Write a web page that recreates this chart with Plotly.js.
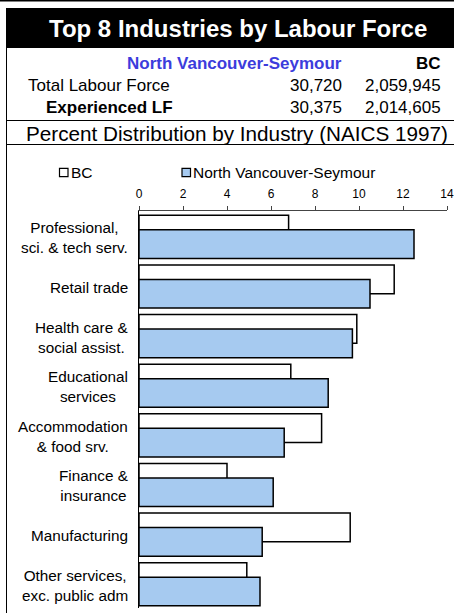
<!DOCTYPE html>
<html>
<head>
<meta charset="utf-8">
<script src="https://cdn.plot.ly/plotly-3.0.1.min.js"></script>
<style>
  html, body { margin: 0; padding: 0; background: #fff; }
  #chart { width: 454px; height: 613px; }
</style>
</head>
<body>
<div id="chart"></div>
<script>
// ---- data ----
const categories = [
  "Professional,<br>sci. & tech serv.",
  "Retail trade",
  "Health care &<br>social assist.",
  "Educational<br>services",
  "Accommodation<br>& food srv.",
  "Finance &<br>insurance",
  "Manufacturing",
  "Other services,<br>exc. public adm"
];
const bcValues = [6.8, 11.6, 9.9, 6.9, 8.3, 4.0, 9.6, 4.9];
const nvValues = [12.5, 10.5, 9.7, 8.6, 6.6, 6.1, 5.6, 5.5];
const seriesNames = ["BC", "North Vancouver-Seymour"];
const xTicks = [0, 2, 4, 6, 8, 10, 12, 14];

const chartTitle = "Top 8 Industries by Labour Force";
const regionName = "North Vancouver-Seymour";
const provName = "BC";
const rowLabels = ["Total Labour Force", "Experienced LF"];
const regionCounts = ["30,720", "30,375"];
const provCounts = ["2,059,945", "2,014,605"];
const subTitle = "Percent Distribution by Industry (NAICS 1997)";

// ---- layout geometry ----
const W = 454, H = 613, L = 139, R = 7, T = 211, B = 5;
const PW = W - L - R, PH = H - T - B;
const fx = x => (x - L) / PW;
const fy = y => (H - B - y) / PH;
const FONT = "Liberation Sans, Arial, sans-serif";
const BLUE = "#A6CAF0";

const barW = 0.578;
const traces = [
  {
    type: "bar", orientation: "h", name: seriesNames[0],
    y: categories, x: bcValues,
    width: barW, offset: -0.413,
    marker: { color: "#ffffff", line: { color: "#000", width: 1.5 } },
    hoverinfo: "x+name"
  },
  {
    type: "bar", orientation: "h", name: seriesNames[1],
    y: categories, x: nvValues,
    width: barW, offset: -0.121,
    marker: { color: BLUE, line: { color: "#000", width: 1.5 } },
    hoverinfo: "x+name"
  }
];

const shapes = [
  // black title banner
  { type: "rect", xref: "paper", yref: "paper", x0: fx(6), x1: fx(454), y0: fy(48), y1: fy(8),
    fillcolor: "#000", line: { width: 0 } },
  // top rule
  { type: "line", xref: "paper", yref: "paper", x0: fx(0), x1: fx(454), y0: fy(0.8), y1: fy(0.8),
    line: { color: "#000", width: 1.5 } },
  // left border
  { type: "line", xref: "paper", yref: "paper", x0: fx(6.5), x1: fx(6.5), y0: fy(613), y1: fy(48),
    line: { color: "#000", width: 1 } },
  // separators
  { type: "line", xref: "paper", yref: "paper", x0: fx(6), x1: fx(454), y0: fy(120.5), y1: fy(120.5),
    line: { color: "#000", width: 1 } },
  { type: "line", xref: "paper", yref: "paper", x0: fx(6), x1: fx(454), y0: fy(144.5), y1: fy(144.5),
    line: { color: "#000", width: 1 } },
  // legend boxes
  { type: "rect", xref: "paper", yref: "paper", x0: fx(59.5), x1: fx(68), y0: fy(176.7), y1: fy(168.3),
    fillcolor: "#fff", line: { color: "#000", width: 1.2 } },
  { type: "rect", xref: "paper", yref: "paper", x0: fx(182), x1: fx(190.5), y0: fy(176.7), y1: fy(168.3),
    fillcolor: BLUE, line: { color: "#000", width: 1.2 } }
];

function ann(text, x, y, xanchor, size, opts) {
  return Object.assign({
    xref: "paper", yref: "paper", x: fx(x), y: fy(y),
    xanchor: xanchor, yanchor: "middle", showarrow: false, text: text,
    font: { family: FONT, size: size, color: "#000" }
  }, opts || {});
}

const annotations = [
  ann("<b>" + chartTitle + "</b>", 237.5, 28, "center", 24, { font: { family: FONT, size: 24, color: "#fff" } }),
  ann("<b>" + regionName + "</b>", 344, 63, "right", 17, { font: { family: FONT, size: 17, color: "#3C3CDC" } }),
  ann("<b>" + provName + "</b>", 442.5, 63, "right", 17),
  ann(rowLabels[0], 25.5, 85, "left", 17),
  ann(regionCounts[0], 344, 85, "right", 17),
  ann(provCounts[0], 442.5, 85, "right", 17),
  ann("<b>" + rowLabels[1] + "</b>", 43.5, 107, "left", 17),
  ann(regionCounts[1], 344, 107, "right", 17),
  ann(provCounts[1], 442.5, 107, "right", 17),
  ann(subTitle, 236.5, 133, "center", 20.7),
  ann(seriesNames[0], 68.5, 172.7, "left", 15.5),
  ann(seriesNames[1], 191, 172.7, "left", 15.5)
];

// category labels: centred lines, block right-aligned next to the axis
categories.forEach(c => {
  annotations.push({
    xref: "paper", yref: "y", x: fx(130), y: c,
    xanchor: "right", yanchor: "middle", align: "center", yshift: -2,
    showarrow: false, text: c,
    font: { family: FONT, size: 15.3, color: "#000" }
  });
});

const layout = {
  width: W, height: H,
  margin: { l: L, r: R, t: T, b: B, pad: 0 },
  paper_bgcolor: "#fff", plot_bgcolor: "#fff",
  font: { family: FONT, color: "#000" },
  barmode: "overlay",
  showlegend: false,
  xaxis: {
    side: "top", range: [0, 14], tickvals: xTicks, ticktext: xTicks.map(String),
    ticks: "outside", ticklen: 4, tickcolor: "#444", tickwidth: 1,
    showline: true, linecolor: "#444", linewidth: 1,
    showgrid: false, zeroline: false, fixedrange: true,
    tickfont: { family: FONT, size: 12, color: "#000" },
    ticklabelstandoff: 3
  },
  yaxis: {
    type: "category", categoryorder: "array", categoryarray: categories,
    range: [7.5, -0.5], showline: true, linecolor: "#000", linewidth: 1.2,
    ticks: "", showgrid: false, zeroline: false, fixedrange: true,
    showticklabels: false
  },
  shapes: shapes,
  annotations: annotations
};

Plotly.newPlot("chart", traces, layout, { displayModeBar: false, staticPlot: true });
</script>
</body>
</html>
